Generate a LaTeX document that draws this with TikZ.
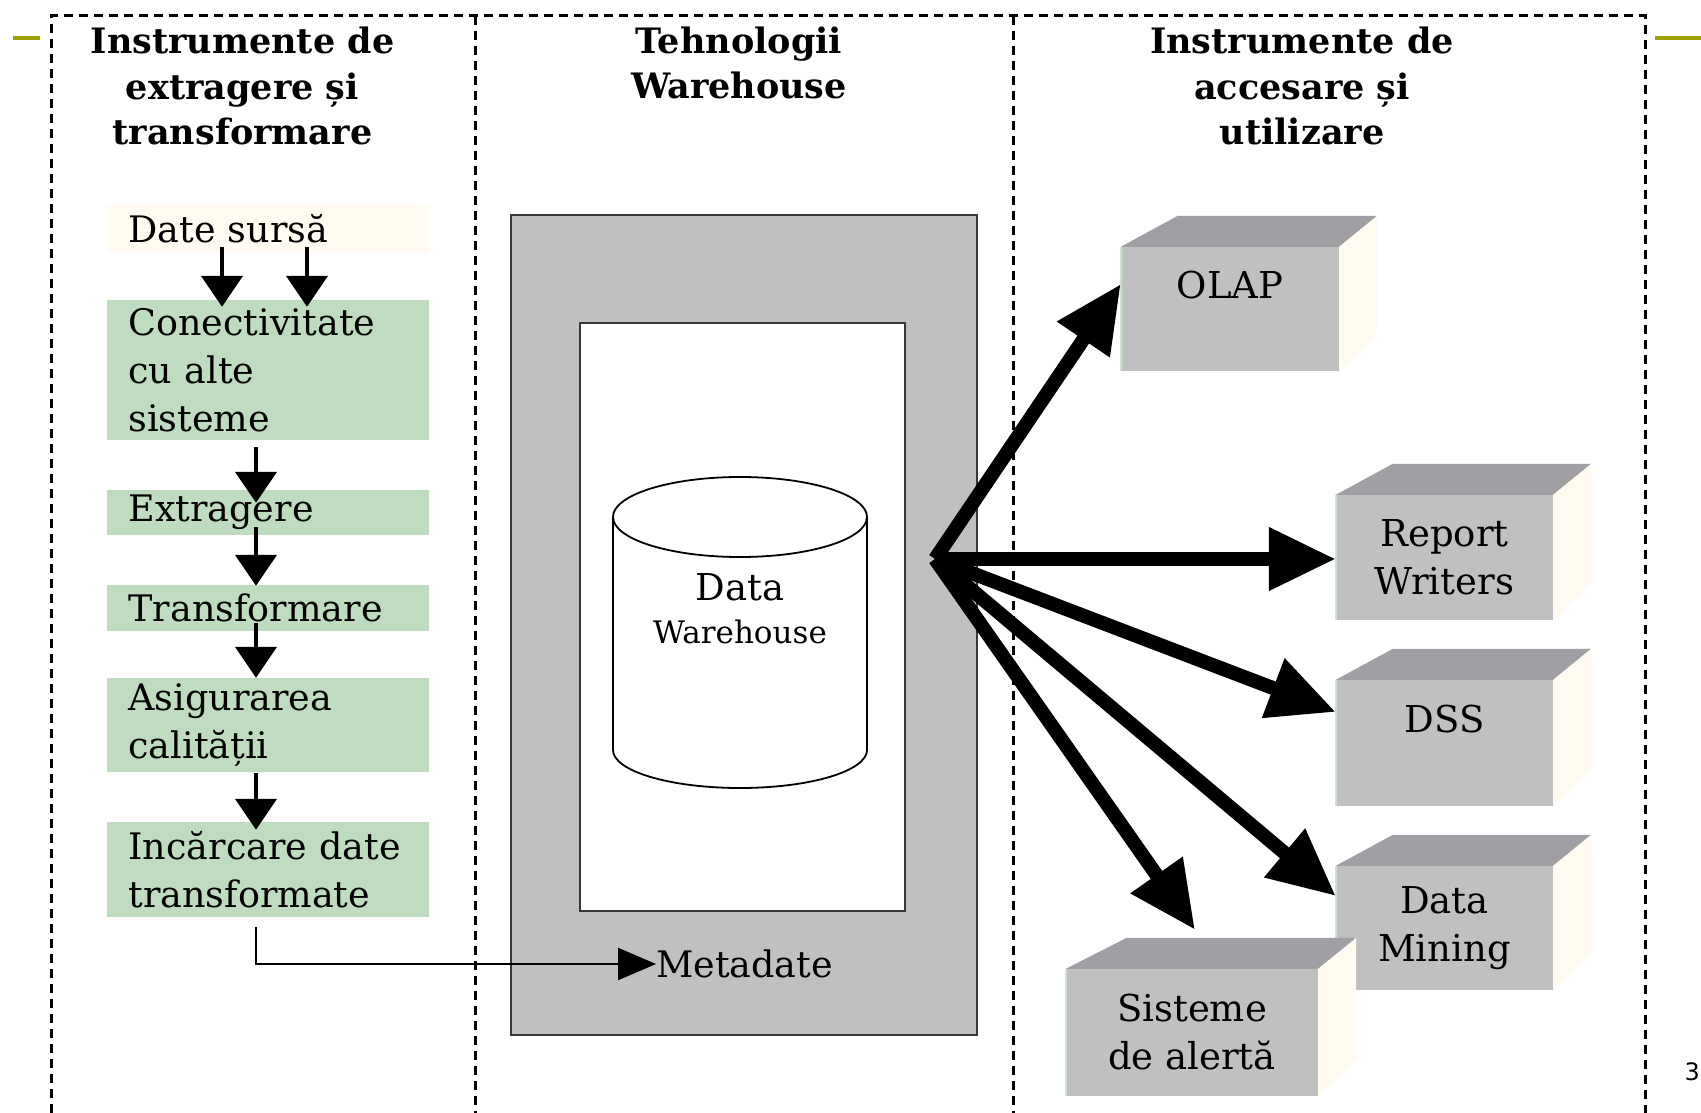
\documentclass[tikz,border=0pt]{standalone}
\usepackage{fontspec}
\setmainfont{DejaVu Serif}
\newfontfamily\pagenumfont{DejaVu Sans}
\usetikzlibrary{arrows.meta}

\definecolor{flowgreen}{HTML}{C0DCC0}
\definecolor{creamfill}{HTML}{FFFBF0}
\definecolor{solidgray}{HTML}{C0C0C0}
\definecolor{topgray}{HTML}{A0A0A4}
\definecolor{edgegray}{HTML}{383838}
\definecolor{lineolive}{HTML}{A0A000}

% top and right faces of a 3D block drawn around its front face
\newcommand\blockfaces[2]{%
  \fill[topgray] (#1.north west) -- ([xshift=#2pt,yshift=31pt]#1.north west)
     -- ([xshift=38pt,yshift=31pt]#1.north east) -- (#1.north east) -- cycle;
  \fill[creamfill] (#1.north east) -- ([xshift=38pt,yshift=31pt]#1.north east)
     -- ([xshift=38pt,yshift=38pt]#1.south east) -- (#1.south east) -- cycle;
  \draw[flowgreen!80!white, line width=1.5pt] (#1.north west) -- (#1.south west);
}

\begin{document}
\begin{tikzpicture}[x=1pt,y=-1pt,
  hdr/.style={font=\fontsize{35}{45.6}\selectfont\bfseries, align=center, inner sep=0pt},
  flowbox/.style={fill=flowgreen, text width=278pt, inner xsep=22pt, inner ysep=0pt,
                  align=left, font=\fontsize{36.5}{48}\selectfont},
  cubefront/.style={fill=solidgray, inner sep=0pt, align=center,
                    font=\fontsize{37}{48}\selectfont},
  smallarrow/.style={line width=4.5pt, -{Triangle[length=31pt,width=41pt]}},
  bigarrow/.style={line width=14pt, -{Triangle[length=67pt,width=60pt]}},
  metaarrow/.style={line width=2.5pt, -{Triangle[length=38pt,width=32pt]}},
  colframe/.style={line width=3pt, dash pattern=on 9pt off 6pt},
]
\useasboundingbox (0,0) rectangle (1701,1113);
\fill[white] (0,0) rectangle (1701,1113);

% slide decoration
\draw[lineolive, line width=3.5pt] (13,38) -- (40,38);
\draw[lineolive, line width=3.5pt] (1655,38) -- (1701,38);
\node[anchor=east, inner sep=0pt, font=\pagenumfont\fontsize{24}{28}\selectfont] (pg) at (1700,1072) {3};

% dashed column frame
\draw[colframe] (51,1113) -- (51,16) -- (1645,16) -- (1645,1113);
\draw[colframe] (475,16) -- (475,1113);
\draw[colframe] (1013,16) -- (1013,1113);

% column headings
\node[hdr] (hl) at (242.5,86) {Instrumente de\\extragere și\\transformare};
\node[hdr] (hm) at (739,63) {Tehnologii\\Warehouse};
\node[hdr] (hr) at (1302,86) {Instrumente de\\accesare și\\utilizare};

% extraction / transformation steps
\node[flowbox, fill=creamfill, minimum height=47pt] (src) at (267.5,228.5) {Date sursă};
\node[flowbox, minimum height=140pt] (conn) at (267.5,370) {Conectivitate\\cu alte\\sisteme};
\node[flowbox, minimum height=45pt] (extr) at (267.5,512.5) {Extragere};
\node[flowbox, minimum height=46pt] (transf) at (267.5,608) {Transformare};
\node[flowbox, minimum height=94pt] (asig) at (267.5,725) {Asigurarea\\calității};
\node[flowbox, minimum height=95pt] (inc) at (267.5,869.5) {Incărcare date\\transformate};

\draw[smallarrow] ([xshift=-45.5pt,yshift=5pt]src.south) -- ([xshift=-45.5pt,yshift=-7pt]conn.north);
\draw[smallarrow] ([xshift=39.5pt,yshift=5pt]src.south) -- ([xshift=39.5pt,yshift=-7pt]conn.north);
\draw[smallarrow] ([xshift=-11.5pt,yshift=-7pt]conn.south) -- ([xshift=-11.5pt,yshift=-13pt]extr.north);
\draw[smallarrow] ([xshift=-11.5pt,yshift=8pt]extr.south) -- ([xshift=-11.5pt,yshift=-1pt]transf.north);
\draw[smallarrow] ([xshift=-11.5pt,yshift=8pt]transf.south) -- ([xshift=-11.5pt]asig.north);
\draw[smallarrow] ([xshift=-11.5pt,yshift=-1pt]asig.south) -- ([xshift=-11.5pt,yshift=-8pt]inc.north);

% warehouse technology block
\node[draw=edgegray, line width=2.5pt, fill=solidgray, minimum width=466pt,
      minimum height=820pt, inner sep=0pt] (wh) at (744,625) {};
\node[draw=edgegray, line width=2.5pt, fill=white, minimum width=325pt,
      minimum height=588pt, inner sep=0pt] (whin) at (742.5,617) {};

% data warehouse cylinder
\draw[line width=1.8pt, fill=white] (613,517) -- (613,750)
   arc[start angle=180, end angle=0, x radius=127, y radius=38]
   -- (867,517) arc[start angle=0, end angle=-180, x radius=127, y radius=40] -- cycle;
\draw[line width=1.8pt] (613,517) arc[start angle=180, end angle=0, x radius=127, y radius=40];
\node[font=\fontsize{37}{40}\selectfont, inner sep=0pt] (dwa) at (740,587) {Data};
\node[font=\fontsize{31}{36}\selectfont, inner sep=0pt] (dwb) at (740,632) {Warehouse};

\node[anchor=west, inner sep=0pt, font=\fontsize{36.5}{40}\selectfont] (meta) at (656,964) {Metadate};
\draw[metaarrow] ([xshift=-11.5pt,yshift=-10pt]inc.south) |- (meta.west);

% access and usage tools
\node[cubefront, minimum width=218pt, minimum height=124pt] (olap) at (1230,309) {OLAP\\\mbox{}};
\blockfaces{olap}{57}
\node[cubefront, minimum width=217pt, minimum height=125pt] (rw) at (1444.5,557.5) {Report\\Writers};
\blockfaces{rw}{57}
\node[cubefront, minimum width=217pt, minimum height=126pt] (dss) at (1444.5,743) {DSS\\\mbox{}};
\blockfaces{dss}{57}
\node[cubefront, minimum width=217pt, minimum height=124pt] (dm) at (1444.5,928) {Data\\Mining};
\blockfaces{dm}{57}
\node[cubefront, minimum width=252pt, minimum height=127pt] (sist) at (1192,1032.5) {Sisteme\\de alertă};
\blockfaces{sist}{61}

% distribution arrows
\coordinate (hub) at (935,559);
\draw[bigarrow] (hub) -- ([yshift=25pt]olap.west);
\draw[bigarrow] (hub) -- ([yshift=-1.5pt]rw.west);
\draw[bigarrow] (hub) -- ([yshift=31pt]dss.west);
\draw[bigarrow] (hub) -- ([yshift=32pt]dm.west);
\draw[bigarrow] (hub) -- ([xshift=3pt,yshift=39pt]sist.north);
\end{tikzpicture}
\end{document}
